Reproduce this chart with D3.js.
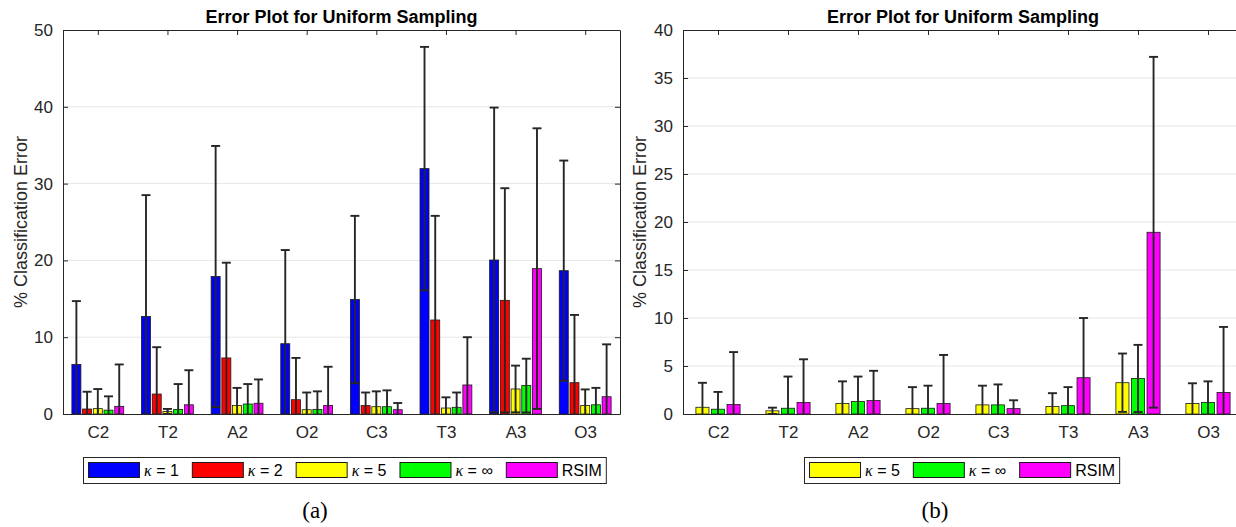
<!DOCTYPE html>
<html>
<head>
<meta charset="utf-8">
<script src="https://cdn.jsdelivr.net/npm/d3@7"></script>
<style>
  body { margin: 0; background: #fff; }
  svg { display: block; font-family: "Liberation Sans", Arial, sans-serif; }
</style>
</head>
<body>
<div id="chart"></div>
<script>
const categories = ['C2', 'T2', 'A2', 'O2', 'C3', 'T3', 'A3', 'O3']
const seriesNames = ['κ = 1', 'κ = 2', 'κ = 5', 'κ = ∞', 'RSIM']
const seriesColors = ['#0000ff', '#ff0000', '#ffff00', '#00ff00', '#ff00ff']

// mean error and top of the error bar (mean + std) per category
const k1Mean = [6.45, 12.7, 17.9, 9.15, 14.9, 31.95, 20.05, 18.66]
const k1Upper = [14.7, 28.5, 34.9, 21.35, 25.8, 47.8, 39.9, 33.0]
const k2Mean = [0.65, 2.6, 7.3, 1.86, 1.1, 12.24, 14.8, 4.08]
const k2Upper = [2.9, 8.7, 19.7, 7.3, 2.8, 25.8, 29.4, 12.9]
const k5Mean = [0.7, 0.33, 1.1, 0.56, 0.95, 0.78, 3.26, 1.1]
const k5Upper = [3.25, 0.66, 3.4, 2.8, 2.95, 2.17, 6.3, 3.2]
const kInfMean = [0.5, 0.6, 1.3, 0.6, 0.95, 0.87, 3.7, 1.2]
const kInfUpper = [2.3, 3.9, 3.9, 2.95, 3.08, 2.8, 7.2, 3.4]
const rsimMean = [1.0, 1.2, 1.4, 1.1, 0.56, 3.78, 18.93, 2.25]
const rsimUpper = [6.45, 5.7, 4.5, 6.15, 1.43, 10.0, 37.2, 9.07]

const leftTicks = [0, 10, 20, 30, 40, 50]
const rightTicks = [0, 5, 10, 15, 20, 25, 30, 35, 40]

const means = [k1Mean, k2Mean, k5Mean, kInfMean, rsimMean]
const uppers = [k1Upper, k2Upper, k5Upper, kInfUpper, rsimUpper]

const width = 1236
const height = 527
const plotTop = 30
const plotBottom = 414
const axisColor = '#262626'

const svg = d3.select('#chart')
    .append('svg')
    .attr('width', width)
    .attr('height', height)

const panels = [
    { id: 'a', left: 63, right: 620, ticks: leftTicks, series: [0, 1, 2, 3, 4], caption: '(a)', captionX: 315, legendX: 83, yLabelX: 21 },
    { id: 'b', left: 683, right: 1243, ticks: rightTicks, series: [2, 3, 4], caption: '(b)', captionX: 935, legendX: 804, yLabelX: 640 }
]

panels.forEach(p => {
    const g = svg.append('g')
    const x = d3.scaleLinear().domain([0.5, categories.length + 0.5]).range([p.left, p.right])
    const y = d3.scaleLinear().domain([0, d3.max(p.ticks)]).range([plotBottom, plotTop])
    const unit = x(2) - x(1)

    // matlab style grouped bars
    const n = p.series.length
    const groupWidth = Math.min(0.8, n / (n + 1.5))
    const step = groupWidth / n * unit
    const barW = step * 0.84

    g.append('clipPath').attr('id', 'clip-' + p.id)
        .append('rect')
        .attr('x', p.left).attr('y', plotTop)
        .attr('width', p.right - p.left).attr('height', plotBottom - plotTop)

    // grid
    g.selectAll('.grid')
        .data(p.ticks.slice(1, -1))
        .enter()
        .append('line')
        .attr('x1', p.left).attr('x2', p.right)
        .attr('y1', d => y(d)).attr('y2', d => y(d))
        .attr('stroke', '#e6e6e6')
        .attr('stroke-width', 1)

    const plot = g.append('g').attr('clip-path', `url(#clip-${p.id})`)

    p.series.forEach((s, j) => {
        const off = (j - (n - 1) / 2) * step
        plot.selectAll('.bar-' + s)
            .data(categories)
            .enter()
            .append('rect')
            .attr('x', (d, i) => x(i + 1) + off - barW / 2)
            .attr('y', (d, i) => y(means[s][i]))
            .attr('width', barW)
            .attr('height', (d, i) => y(0) - y(means[s][i]))
            .attr('fill', seriesColors[s])
            .attr('stroke', '#1a1a1a')
            .attr('stroke-width', 0.8)
    })

    p.series.forEach((s, j) => {
        const off = (j - (n - 1) / 2) * step
        categories.forEach((c, i) => {
            const cx = x(i + 1) + off
            const hi = uppers[s][i]
            const lo = 2 * means[s][i] - hi
            const eb = plot.append('g')
                .attr('stroke', axisColor)
                .attr('stroke-width', 1.9)
            eb.append('line').attr('x1', cx).attr('x2', cx).attr('y1', y(lo)).attr('y2', y(hi))
            eb.append('line').attr('x1', cx - 4.5).attr('x2', cx + 4.5).attr('y1', y(hi)).attr('y2', y(hi))
            eb.append('line').attr('x1', cx - 4.5).attr('x2', cx + 4.5).attr('y1', y(lo)).attr('y2', y(lo))
        })
    })

    // axes, ticks point inwards
    const yAxis = d3.axisLeft(y).tickValues(p.ticks).tickSize(-5).tickPadding(10).tickSizeOuter(0)
    const yAxisG = g.append('g')
        .attr('transform', `translate(${p.left},0)`)
        .call(yAxis)
    const yAxisR = g.append('g')
        .attr('transform', `translate(${p.right},0)`)
        .call(d3.axisRight(y).tickValues(p.ticks).tickSize(-5).tickFormat('').tickSizeOuter(0))
    const xAxisTop = g.append('g')
        .attr('transform', `translate(0,${plotTop})`)
        .call(d3.axisTop(x).tickValues(d3.range(1, categories.length + 1)).tickSize(-5).tickFormat('').tickSizeOuter(0))
    const xAxisBottom = g.append('g')
        .attr('transform', `translate(0,${plotBottom})`)
        .call(d3.axisBottom(x).tickValues(d3.range(1, categories.length + 1)).tickSize(-5).tickPadding(12)
            .tickFormat(d => categories[d - 1]).tickSizeOuter(0))

    ;[yAxisG, yAxisR, xAxisTop, xAxisBottom].forEach(a => {
        a.selectAll('path').attr('stroke', axisColor).attr('stroke-width', 1)
        a.selectAll('line').attr('stroke', axisColor)
        a.selectAll('text').attr('fill', axisColor).style('font-size', '17px').attr('font-family', null)
    })

    g.append('text')
        .attr('transform', `translate(${p.yLabelX},${(plotTop + plotBottom) / 2}) rotate(-90)`)
        .attr('text-anchor', 'middle')
        .attr('dy', '0.35em')
        .attr('fill', axisColor)
        .style('font-size', '18px')
        .text('% Classification Error')

    g.append('text')
        .attr('x', (p.left + p.right) / 2)
        .attr('y', 23)
        .attr('text-anchor', 'middle')
        .style('font-size', '18px')
        .style('font-weight', 'bold')
        .text('Error Plot for Uniform Sampling')

    // legend
    const legend = g.append('g')
    const box = legend.append('rect')
        .attr('x', p.legendX + 0.5).attr('y', 457.5)
        .attr('height', 26)
        .attr('fill', '#fff')
        .attr('stroke', '#262626')
        .attr('stroke-width', 1)
    const gap = 13
    let lx = p.legendX + 5
    p.series.forEach(s => {
        legend.append('rect')
            .attr('x', lx + 0.5).attr('y', 462.5)
            .attr('width', 51).attr('height', 15)
            .attr('fill', seriesColors[s])
            .attr('stroke', '#1a1a1a')
        lx += 56
        const t = legend.append('text')
            .attr('x', lx).attr('y', 476)
            .style('font-size', '16px')
            .attr('fill', '#000')
        const name = seriesNames[s]
        if (name.startsWith('κ')) {
            t.append('tspan')
                .attr('font-family', '"Liberation Serif", serif')
                .style('font-style', 'italic')
                .style('font-size', '16px')
                .text('κ')
            t.append('tspan').text(name.slice(1))
        } else {
            t.text(name)
        }
        lx += t.node().getComputedTextLength() + gap
    })
    box.attr('width', lx - gap + 4 - p.legendX)

    g.append('text')
        .attr('x', p.captionX)
        .attr('y', 518)
        .attr('text-anchor', 'middle')
        .attr('font-family', '"Liberation Serif", "DejaVu Serif", serif')
        .style('font-size', '23px')
        .text(p.caption)
})
</script>
</body>
</html>
